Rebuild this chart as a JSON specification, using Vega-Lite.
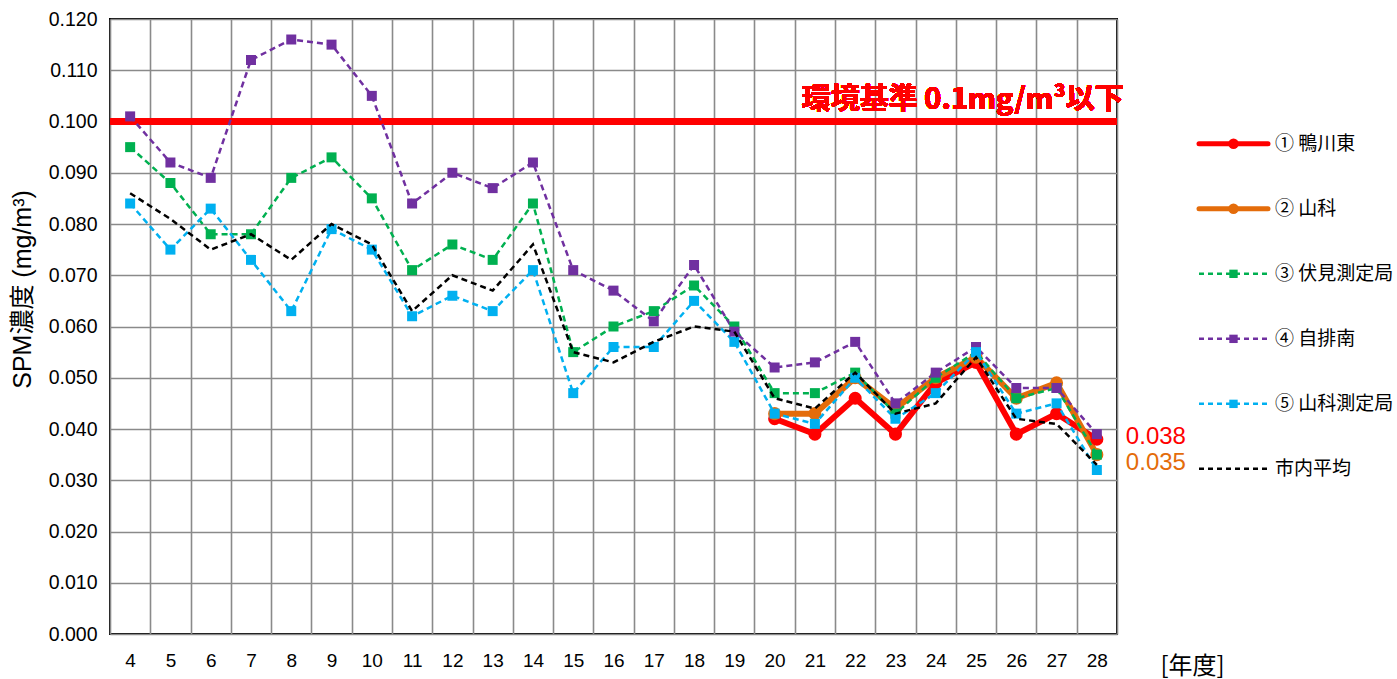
{
  "$schema": "https://vega.github.io/schema/vega-lite/v6.json",
  "padding": {"left": 9, "top": 8, "right": 0, "bottom": 2},
  "bounds": "flush",
  "spacing": 82,
  "background": "white",
  "datasets": {
    "spm": [
      {"year": 4, "k3": 0.095, "k4": 0.101, "k5": 0.084, "k6": 0.086},
      {"year": 5, "k3": 0.088, "k4": 0.092, "k5": 0.075, "k6": 0.081},
      {"year": 6, "k3": 0.078, "k4": 0.089, "k5": 0.083, "k6": 0.075},
      {"year": 7, "k3": 0.078, "k4": 0.112, "k5": 0.073, "k6": 0.078},
      {"year": 8, "k3": 0.089, "k4": 0.116, "k5": 0.063, "k6": 0.073},
      {"year": 9, "k3": 0.093, "k4": 0.115, "k5": 0.079, "k6": 0.080},
      {"year": 10, "k3": 0.085, "k4": 0.105, "k5": 0.075, "k6": 0.076},
      {"year": 11, "k3": 0.071, "k4": 0.084, "k5": 0.062, "k6": 0.063},
      {"year": 12, "k3": 0.076, "k4": 0.090, "k5": 0.066, "k6": 0.070},
      {"year": 13, "k3": 0.073, "k4": 0.087, "k5": 0.063, "k6": 0.067},
      {"year": 14, "k3": 0.084, "k4": 0.092, "k5": 0.071, "k6": 0.076},
      {"year": 15, "k3": 0.055, "k4": 0.071, "k5": 0.047, "k6": 0.055},
      {"year": 16, "k3": 0.060, "k4": 0.067, "k5": 0.056, "k6": 0.053},
      {"year": 17, "k3": 0.063, "k4": 0.061, "k5": 0.056, "k6": 0.057},
      {"year": 18, "k3": 0.068, "k4": 0.072, "k5": 0.065, "k6": 0.060},
      {"year": 19, "k3": 0.060, "k4": 0.059, "k5": 0.057, "k6": 0.059},
      {"year": 20, "k1": 0.042, "k2": 0.043, "k3": 0.047, "k4": 0.052, "k5": 0.043, "k6": 0.046},
      {"year": 21, "k1": 0.039, "k2": 0.043, "k3": 0.047, "k4": 0.053, "k5": 0.041, "k6": 0.044},
      {"year": 22, "k1": 0.046, "k2": 0.050, "k3": 0.051, "k4": 0.057, "k5": 0.050, "k6": 0.051},
      {"year": 23, "k1": 0.039, "k2": 0.044, "k3": 0.043, "k4": 0.045, "k5": 0.042, "k6": 0.043},
      {"year": 24, "k1": 0.049, "k2": 0.050, "k3": 0.050, "k4": 0.051, "k5": 0.047, "k6": 0.045},
      {"year": 25, "k1": 0.053, "k2": 0.054, "k3": 0.055, "k4": 0.056, "k5": 0.055, "k6": 0.054},
      {"year": 26, "k1": 0.039, "k2": 0.046, "k3": 0.046, "k4": 0.048, "k5": 0.043, "k6": 0.042},
      {"year": 27, "k1": 0.043, "k2": 0.049, "k3": 0.048, "k4": 0.048, "k5": 0.045, "k6": 0.041},
      {"year": 28, "k1": 0.038, "k2": 0.035, "k3": 0.035, "k4": 0.039, "k5": 0.032, "k6": 0.033}
    ],
    "legend": [
      {"key": "k1", "order": 1, "label": "① 鴨川東"},
      {"key": "k2", "order": 2, "label": "② 山科"},
      {"key": "k3", "order": 3, "label": "③ 伏見測定局"},
      {"key": "k4", "order": 4, "label": "④ 自排南"},
      {"key": "k5", "order": 5, "label": "⑤ 山科測定局"},
      {"key": "k6", "order": 6, "label": "市内平均"}
    ]
  },
  "config": {
    "font": "Liberation Sans, Noto Sans CJK JP",
    "axis": {"gridColor": "#8a8a8a", "gridWidth": 1.6, "gridOpacity": 1}
  },
  "hconcat": [
    {
      "width": 1007,
      "height": 615,
      "view": {"stroke": "#000000", "strokeWidth": 2},
      "data": {"name": "spm"},
      "transform": [
        {"fold": ["k1", "k2", "k3", "k4", "k5", "k6"], "as": ["key", "v"]},
        {"filter": "isValid(datum.v)"}
      ],
      "encoding": {
        "x": {
          "field": "year", "type": "ordinal",
          "scale": {"type": "band", "paddingInner": 0, "paddingOuter": 0},
          "axis": {
            "labelAngle": 0, "ticks": false, "domain": false, "grid": true, "tickBand": "extent",
            "labelFont": "Liberation Sans Narrow, Liberation Sans", "labelFontSize": 19, "labelColor": "#000000",
            "labelPadding": 17,
            "title": "[年度]", "titleFont": "Noto Sans CJK JP", "titleFontSize": 24, "titleFontWeight": "normal",
            "titleColor": "#000000", "titleAlign": "left", "titleAnchor": "start", "titleX": 1050, "titleY": 32, "titleBaseline": "middle"
          }
        },
        "y": {
          "field": "v", "type": "quantitative",
          "scale": {"domain": [0, 0.12], "nice": false},
          "axis": {
            "values": [0, 0.01, 0.02, 0.03, 0.04, 0.05, 0.06, 0.07, 0.08, 0.09, 0.1, 0.11, 0.12],
            "format": ".3f", "ticks": false, "domain": false, "grid": true,
            "labelFontSize": 19.5, "labelColor": "#000000", "labelPadding": 13,
            "title": "SPM濃度 (mg/m³)", "titleFont": "Liberation Sans, Noto Sans CJK JP", "titleFontSize": 25,
            "titleFontWeight": "normal", "titleColor": "#000000", "titlePadding": 13, "titleY": 270
          }
        },
        "color": {
          "field": "key", "type": "nominal",
          "scale": {"domain": ["k1", "k2", "k3", "k4", "k5", "k6"], "range": ["#FF0000", "#E46C0A", "#00B050", "#7030A0", "#00B0F0", "#000000"]},
          "legend": null
        }
      },
      "layer": [
        {
          "mark": {"type": "rule", "color": "#FF0000", "strokeWidth": 7},
          "encoding": {"y": {"datum": 0.1}, "x": null, "color": null}
        },
        {
          "mark": {"type": "text", "text": "環境基準 0.1mg/m³以下", "color": "#FF0000", "font": "Noto Sans CJK JP", "fontWeight": "bold", "fontSize": 29, "align": "right", "baseline": "alphabetic", "dx": 27, "dy": -13},
          "encoding": {"x": {"datum": 28}, "y": {"datum": 0.1}, "color": null}
        },
        {
          "transform": [{"filter": {"field": "key", "oneOf": ["k1", "k2"]}}],
          "mark": {"type": "line", "strokeWidth": 6, "point": {"filled": true, "shape": "circle", "size": 170}}
        },
        {
          "transform": [{"filter": {"field": "key", "oneOf": ["k3", "k4", "k5"]}}],
          "mark": {"type": "line", "strokeWidth": 2.5, "strokeDash": [6, 4], "point": {"filled": true, "shape": "square", "size": 100}}
        },
        {
          "transform": [{"filter": {"field": "key", "equal": "k6"}}],
          "mark": {"type": "line", "strokeWidth": 2.5, "strokeDash": [6, 4]}
        },
        {
          "transform": [{"filter": "datum.key == 'k1' && datum.year == 28"}],
          "mark": {"type": "text", "align": "left", "baseline": "middle", "dx": 29, "dy": -2, "fontSize": 24, "font": "Liberation Sans"},
          "encoding": {"text": {"field": "v", "type": "quantitative", "format": ".3f"}}
        },
        {
          "transform": [{"filter": "datum.key == 'k2' && datum.year == 28"}],
          "mark": {"type": "text", "align": "left", "baseline": "middle", "dx": 29, "dy": 8, "fontSize": 24, "font": "Liberation Sans"},
          "encoding": {"text": {"field": "v", "type": "quantitative", "format": ".3f"}}
        }
      ]
    },
    {
      "width": 195,
      "height": 615,
      "view": {"stroke": null},
      "data": {"name": "legend"},
      "encoding": {
        "y": {
          "field": "order", "type": "quantitative",
          "scale": {"domain": [-0.92, 8.54], "reverse": true, "nice": false, "zero": false},
          "axis": null
        },
        "color": {"field": "key", "type": "nominal", "legend": null}
      },
      "layer": [
        {
          "transform": [{"filter": {"field": "key", "oneOf": ["k1", "k2"]}}],
          "mark": {"type": "rule", "strokeWidth": 5, "strokeCap": "round"},
          "encoding": {
            "x": {"datum": 0, "type": "quantitative", "scale": {"domain": [0, 195]}, "axis": null},
            "x2": {"datum": 69}
          }
        },
        {
          "transform": [{"filter": {"field": "key", "oneOf": ["k3", "k4", "k5", "k6"]}}],
          "mark": {"type": "rule", "strokeWidth": 2.5, "strokeDash": [5, 4]},
          "encoding": {
            "x": {"datum": 0, "type": "quantitative", "scale": {"domain": [0, 195]}, "axis": null},
            "x2": {"datum": 69}
          }
        },
        {
          "transform": [{"filter": {"field": "key", "oneOf": ["k1", "k2"]}}],
          "mark": {"type": "point", "filled": true, "shape": "circle", "size": 110, "opacity": 1},
          "encoding": {"x": {"datum": 34.5, "type": "quantitative", "scale": {"domain": [0, 195]}, "axis": null}}
        },
        {
          "transform": [{"filter": {"field": "key", "oneOf": ["k3", "k4", "k5"]}}],
          "mark": {"type": "point", "filled": true, "shape": "square", "size": 70, "opacity": 1},
          "encoding": {"x": {"datum": 34.5, "type": "quantitative", "scale": {"domain": [0, 195]}, "axis": null}}
        },
        {
          "mark": {"type": "text", "align": "left", "baseline": "middle", "fontSize": 19, "font": "Noto Sans CJK JP", "color": "#000000"},
          "encoding": {
            "x": {"datum": 76, "type": "quantitative", "scale": {"domain": [0, 195]}, "axis": null},
            "text": {"field": "label"},
            "color": null
          }
        }
      ]
    }
  ]
}
